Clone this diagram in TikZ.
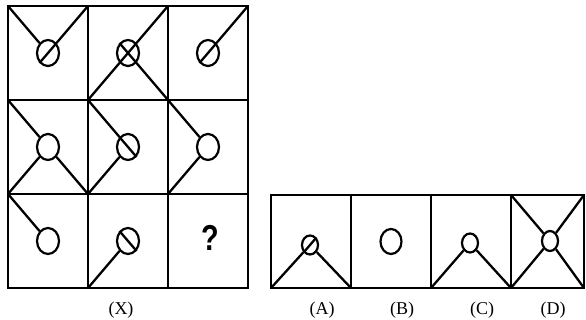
\documentclass[tikz,border=0pt]{standalone}
\usepackage{fontspec}
\setmainfont{Liberation Serif}
\setsansfont{Liberation Sans}
\usetikzlibrary{shapes.geometric}
\begin{document}
\begin{tikzpicture}[
		x=1pt, y=-1pt,
		cell/.style={draw, line width=2.6pt, minimum width=80pt, minimum height=94pt, inner sep=0pt, outer sep=0pt},
		ring/.style={ellipse, draw, line width=2.2pt, minimum width=22pt, minimum height=26pt, inner sep=0pt},
		small ring/.style={ring, minimum width=16pt, minimum height=19pt},
		stroke/.style={line width=2.3pt},
		caption/.style={font=\fontsize{18}{20}\selectfont}
		]
		\useasboundingbox (0,0) rectangle (586,320);
		
		% ---------------------------------------------------------
		% Figure (X): 3x3 matrix
		% ---------------------------------------------------------
		\foreach \r in {1,2,3} {
			\foreach \c in {1,2,3} {
				\node[cell] (x\r\c) at ({48+80*(\c-1)}, {53+94*(\r-1)}) {};
			}
		}
		
		% Rings
		\foreach \r/\c in {1/1, 1/2, 1/3, 2/1, 2/2, 2/3, 3/1, 3/2} {
			\node[ring] (o\r\c) at (x\r\c) {};
		}
		
		% Row 1
		\draw[stroke] (x11.north west) -- (o11);
		\draw[stroke] (x11.north east) -- (o11);
		\draw[stroke] (o11.south west) -- (o11.north east);
		
		\draw[stroke] (x12.north east) -- (o12);
		\draw[stroke] (x12.south west) -- (o12);
		\draw[stroke] (x12.south east) -- (o12);
		\draw[stroke] (o12.south west) -- (o12.north east);
		\draw[stroke] (o12.north west) -- (o12.south east);
		
		\draw[stroke] (x13.north east) -- (o13);
		\draw[stroke] (o13.south west) -- (o13.north east);
		
		% Row 2
		\draw[stroke] (x21.north west) -- (o21);
		\draw[stroke] (x21.south west) -- (o21);
		\draw[stroke] (x21.south east) -- (o21);
		
		\draw[stroke] (x22.north west) -- (o22);
		\draw[stroke] (x22.south west) -- (o22);
		\draw[stroke] (o22.north west) -- (o22.south east);
		
		\draw[stroke] (x23.north west) -- (o23);
		\draw[stroke] (x23.south west) -- (o23);
		
		% Row 3
		\draw[stroke] (x31.north west) -- (o31);
		
		\draw[stroke] (x32.south west) -- (o32);
		\draw[stroke] (o32.north west) -- (o32.south east);
		
		\node[font=\sffamily\bfseries\fontsize{36}{36}\selectfont, xscale=0.8] (q) at (210,238) {?};
		
		\node[caption] (lx) at (121,310) {(X)};
		
		% ---------------------------------------------------------
		% Answer figures (A)--(D)
		% ---------------------------------------------------------
		\node[cell, minimum height=93pt] (a) at (311,241.5) {};
		\node[cell, minimum height=93pt] (b) at (391,241.5) {};
		\node[cell, minimum height=93pt] (c) at (471,241.5) {};
		\node[cell, minimum height=93pt, minimum width=73pt] (d) at (547.5,241.5) {};
		
		\node[small ring] (oa) at (310,245) {};
		\draw[stroke] (a.south west) -- (oa);
		\draw[stroke] (a.south east) -- (oa);
		\draw[stroke] (oa.south west) -- (oa.north east);
		
		\node[ring, minimum width=21pt, minimum height=25pt] (ob) at (b) {};
		
		\node[small ring] (oc) at (470,243) {};
		\draw[stroke] (c.south west) -- (oc);
		\draw[stroke] (c.south east) -- (oc);
		
		\node[small ring, minimum height=20pt] (od) at (550,241) {};
		\foreach \k in {north west, north east, south west, south east} {
			\draw[stroke] (d.\k) -- (od);
		}
		
		\foreach \n/\x in {A/322, B/402, C/482, D/553} {
			\node[caption] (l\n) at (\x,310) {(\n)};
		}
		
	\end{tikzpicture}
\end{document}
